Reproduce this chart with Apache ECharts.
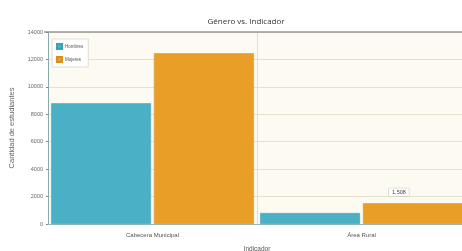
<!DOCTYPE html>
<html>
<head>
<meta charset="utf-8">
<script src="https://cdn.jsdelivr.net/npm/echarts@6/dist/echarts.min.js"></script>
<style>
	html, body { margin: 0; padding: 0; background: #fff; }
	#chart { width: 462px; height: 251px; }
</style>
</head>
<body>
<div id="chart"></div>
<script>
var categories = ['Cabecera Municipal', 'Área Rural'];
var hombres = [8800, 800];
var mujeres = [12450, 1508];
var yTicks = [0, 2000, 4000, 6000, 8000, 10000, 12000, 14000];

var chart = echarts.init(document.getElementById('chart'));
var option = {
	animation: false,
	title: {
		text: 'Género vs. Indicador',
		left: 241,
		textAlign: 'center',
		top: 13,
		textStyle: { fontSize: 8, fontWeight: 'normal', color: '#333', fontFamily: 'Open Sans' }
	},
	legend: {
		data: ['Hombres', 'Mujeres'],
		orient: 'vertical',
		left: 52,
		top: 39,
		padding: [4, 5, 4, 4],
		itemGap: 6,
		itemWidth: 5,
		itemHeight: 5,
		icon: 'rect',
		backgroundColor: '#fff',
		borderColor: '#ddd',
		borderWidth: 1,
		textStyle: { fontSize: 4.5, color: '#555', padding: [0, 0, 0, -2] }
	},
	grid: {
		left: 48,
		right: -4,
		top: 32,
		bottom: 27,
		outerBoundsMode: 'none',
		containLabel: false,
		show: true,
		backgroundColor: '#fdfaf1',
		borderWidth: 0
	},
	xAxis: {
		type: 'category',
		data: categories,
		name: 'Indicador',
		nameLocation: 'middle',
		nameGap: 22,
		nameTextStyle: { fontSize: 6.5, color: '#555' },
		axisLine: { lineStyle: { color: '#9bb', width: 1 } },
		axisTick: { show: false },
		axisLabel: { fontSize: 6, color: '#555', margin: 8 },
		splitLine: { show: true, lineStyle: { color: '#e2ded2' } }
	},
	yAxis: {
		type: 'value',
		min: 0,
		max: 14000,
		interval: 2000,
		name: 'Cantidad de estudiantes',
		nameLocation: 'middle',
		nameGap: 32,
		nameTextStyle: { fontSize: 7.5, color: '#666' },
		axisLine: { show: true, lineStyle: { color: '#8aa', width: 1 } },
		axisTick: { show: true, length: 2, lineStyle: { color: '#888' } },
		axisLabel: {
			fontSize: 5.5, color: '#666', margin: 5,
			formatter: function(v) { return yTicks.indexOf(v) >= 0 ? String(v) : ''; }
		},
		splitLine: { lineStyle: { color: '#e6e0cf' } }
	},
	series: [{
		name: 'Hombres',
		type: 'bar',
		data: hombres,
		barGap: '3%',
		barCategoryGap: '3%',
		itemStyle: { color: '#49b0c5', borderColor: '#3e9eb2', borderWidth: 0.5 }
	},
	{
		name: 'Mujeres',
		type: 'bar',
		data: mujeres.map(function(v, i) {
			if (i == 1) {
				return {
					value: v,
					label: {
						show: true,
						position: 'top',
						offset: [-14, -2],
						formatter: '1,508',
						fontSize: 5.5,
						color: '#444',
						backgroundColor: '#fff',
						borderColor: '#bbb',
						borderWidth: 0.5,
						padding: [1, 3]
					}
				};
			}
			return v;
		}),
		itemStyle: { color: '#e99f27', borderColor: '#d48f20', borderWidth: 0.5 }
	}]
};
chart.setOption(option);

// top border of the plot
chart.setOption({
	graphic: [{
		type: 'line',
		shape: { x1: 44, y1: 32, x2: 462, y2: 32 },
		style: { stroke: '#999', lineWidth: 1.5 }
	}]
});
</script>
</body>
</html>
